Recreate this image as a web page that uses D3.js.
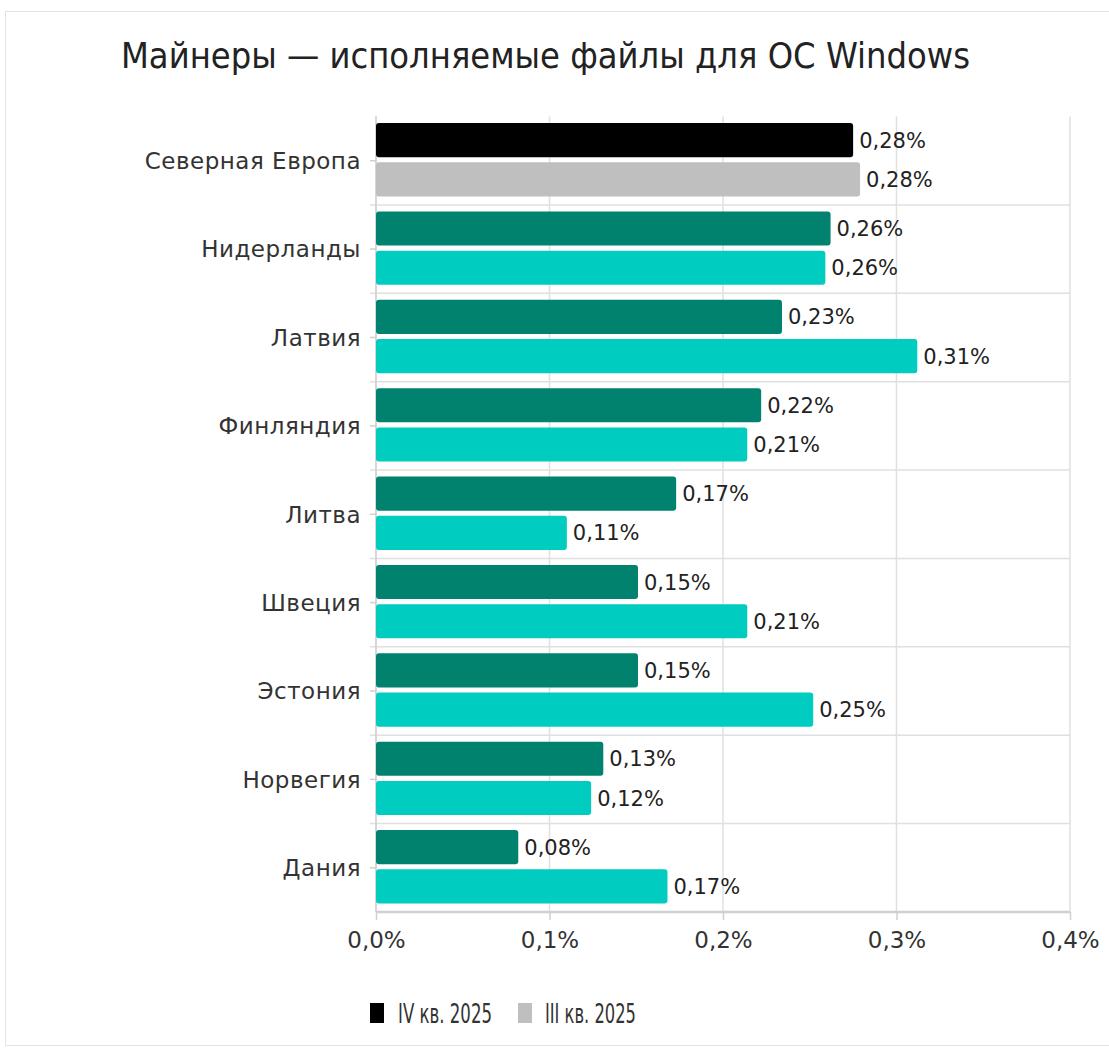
<!DOCTYPE html>
<html><head><meta charset="utf-8">
<script src="https://cdn.jsdelivr.net/npm/d3@7"></script>
<style>body{margin:0;background:#fff;}svg{display:block;font-family:"DejaVu Sans",sans-serif;}</style>
</head><body><svg id="c" width="1109" height="1052"></svg>
<script>
const categories = ["Северная Европа","Нидерланды","Латвия","Финляндия","Литва","Швеция","Эстония","Норвегия","Дания"];
const q4Values = [0.275,0.262,0.234,0.222,0.173,0.151,0.151,0.131,0.082];
const q3Values = [0.279,0.259,0.312,0.214,0.11,0.214,0.252,0.124,0.168];
const q4Labels = ["0,28%","0,26%","0,23%","0,22%","0,17%","0,15%","0,15%","0,13%","0,08%"];
const q3Labels = ["0,28%","0,26%","0,31%","0,21%","0,11%","0,21%","0,25%","0,12%","0,17%"];
const xTicks = [0,0.1,0.2,0.3,0.4];
const xTickLabels = ["0,0%","0,1%","0,2%","0,3%","0,4%"];
const seriesNames = ["IV кв. 2025","III кв. 2025"];
const title = "Майнеры — исполняемые файлы для ОС Windows";

const svg = d3.select("#c");
const L = 376, R = 1070, T = 116.5, B = 912;
const x = d3.scaleLinear().domain([0,0.4]).range([L,R]);
const y = d3.scaleBand().domain(categories).range([T,B]).paddingInner(0).paddingOuter(0);
const inner = d3.scaleBand().domain(["q4","q3"]).range([6.5, y.bandwidth()-8.5]).paddingInner(0.13);
const COND = "'DejaVu Sans Condensed', 'DejaVu Sans', sans-serif";

// border
svg.append("rect").attr("x",5.5).attr("y",11.5).attr("width",1120).attr("height",1034)
  .attr("fill","none").attr("stroke","#e3e3e3");

// title
svg.append("text").attr("x",121).attr("y",68).attr("font-size",35).attr("fill","#222")
  .attr("font-family",COND).attr("font-stretch","condensed")
  .attr("textLength",849).attr("lengthAdjust","spacingAndGlyphs").text(title);

// vertical grid
svg.append("g").selectAll("line").data(xTicks).join("line")
  .attr("x1",d=>x(d)).attr("x2",d=>x(d)).attr("y1",T).attr("y2",B)
  .attr("stroke","#e0e0e0").attr("stroke-width",1.5);
// horizontal separators
svg.append("g").selectAll("line").data(categories.slice(1)).join("line")
  .attr("x1",L-6).attr("x2",R).attr("y1",d=>y(d)).attr("y2",d=>y(d))
  .attr("stroke","#e0e0e0").attr("stroke-width",1.5);
// y axis line & ticks
svg.append("line").attr("x1",L).attr("x2",L).attr("y1",T).attr("y2",B).attr("stroke","#d0d0d0").attr("stroke-width",1.5);
svg.append("g").selectAll("line").data(categories).join("line")
  .attr("x1",L-6).attr("x2",L).attr("y1",d=>y(d)+y.bandwidth()/2).attr("y2",d=>y(d)+y.bandwidth()/2)
  .attr("stroke","#d0d0d0").attr("stroke-width",1.5);

// x axis
const xAxis = d3.axisBottom(x).tickValues(xTicks).tickFormat((d,i)=>xTickLabels[i]).tickSize(8).tickPadding(12);
const gx = svg.append("g").attr("transform",`translate(0,${B})`).call(xAxis);
gx.select(".domain").attr("stroke","#d0d0d0").attr("stroke-width",2.5).attr("d",`M${L},0H${R}`);
gx.selectAll(".tick line").attr("stroke","#d0d0d0").attr("stroke-width",1.5);
gx.selectAll(".tick text").attr("font-size",23).attr("fill","#333").attr("font-family","DejaVu Sans, sans-serif");

// category labels
svg.append("g").selectAll("text").data(categories).join("text")
  .attr("x",361).attr("y",d=>y(d)+y.bandwidth()/2).attr("dy","0.36em")
  .attr("text-anchor","end").attr("font-size",23).attr("letter-spacing",0.5).attr("fill","#333").text(d=>d);

// bars
const rows = categories.map((c,i)=>({c,i}));
const colors = {q4:(i)=>i===0?"#000000":"#00826f", q3:(i)=>i===0?"#bfbfbf":"#00ccc0"};
const vals = {q4:q4Values, q3:q3Values};
const labs = {q4:q4Labels, q3:q3Labels};
["q4","q3"].forEach(s=>{
  svg.append("g").selectAll("rect").data(rows).join("rect")
    .attr("x",L).attr("y",d=>y(d.c)+inner(s))
    .attr("width",d=>x(vals[s][d.i])-L).attr("height",inner.bandwidth())
    .attr("rx",3).attr("fill",d=>colors[s](d.i));
  svg.append("g").selectAll("text").data(rows).join("text")
    .attr("x",d=>x(vals[s][d.i])+6).attr("y",d=>y(d.c)+inner(s)+inner.bandwidth()/2).attr("dy","0.36em")
    .attr("font-size",21).attr("fill","#222").text(d=>labs[s][d.i]);
});

// legend
const lg = svg.append("g");
const lx = [370, 518], tx = [398, 545], tl = [94, 91];
seriesNames.forEach((n,i)=>{
  lg.append("rect").attr("x",lx[i]).attr("y",1003).attr("width",14).attr("height",20)
    .attr("fill",i===0?"#000":"#bfbfbf");
  lg.append("text").attr("x",tx[i]).attr("y",1014).attr("dy","0.36em").attr("font-size",26).attr("fill","#333")
    .attr("font-family",COND).attr("font-stretch","condensed")
    .attr("textLength",tl[i]).attr("lengthAdjust","spacingAndGlyphs").text(n);
});
</script></body></html>
